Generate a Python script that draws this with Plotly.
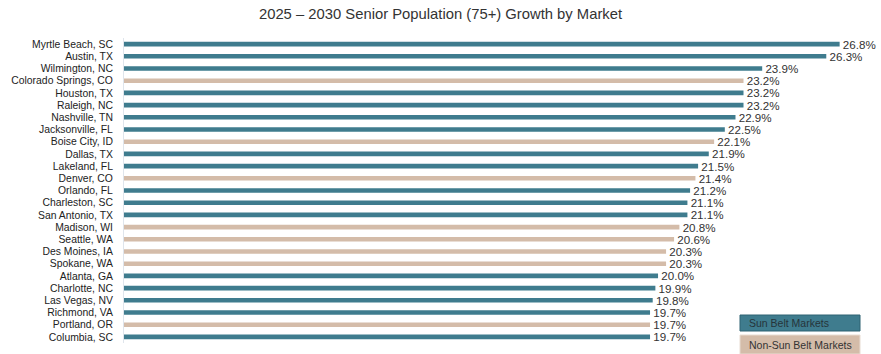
import plotly.graph_objects as go

markets = ["Myrtle Beach, SC", "Austin, TX", "Wilmington, NC", "Colorado Springs, CO",
           "Houston, TX", "Raleigh, NC", "Nashville, TN", "Jacksonville, FL", "Boise City, ID",
           "Dallas, TX", "Lakeland, FL", "Denver, CO", "Orlando, FL", "Charleston, SC",
           "San Antonio, TX", "Madison, WI", "Seattle, WA", "Des Moines, IA", "Spokane, WA",
           "Atlanta, GA", "Charlotte, NC", "Las Vegas, NV", "Richmond, VA", "Portland, OR",
           "Columbia, SC"]
growth = [26.8, 26.3, 23.9, 23.2, 23.2, 23.2, 22.9, 22.5, 22.1, 21.9, 21.5, 21.4, 21.2,
          21.1, 21.1, 20.8, 20.6, 20.3, 20.3, 20.0, 19.9, 19.8, 19.7, 19.7, 19.7]
sun_belt = [True, True, True, False, True, True, True, True, False, True, True, False, True,
            True, True, False, False, False, False, True, True, True, True, False, True]

TEAL = "#3F7C8E"
TAN = "#D4BCA9"
colors = [TEAL if s else TAN for s in sun_belt]
FONT = "Liberation Sans, Arial, sans-serif"

fig = go.Figure()
fig.add_trace(go.Bar(
    y=markets, x=growth, orientation="h",
    marker=dict(color=colors, line=dict(width=0)),
    width=0.38,
    text=[f"\u00a0{v:.1f}%" for v in growth],
    textposition="outside",
    constraintext="none",
    textfont=dict(family=FONT, size=11.6, color="#333333"),
    cliponaxis=False,
    hoverinfo="x+y",
))

fig.update_layout(
    width=881, height=354,
    margin=dict(l=124, r=12, t=38, b=11),
    paper_bgcolor="white", plot_bgcolor="white",
    showlegend=False,
    title=dict(text="2025 – 2030 Senior Population (75+) Growth by Market",
               x=0.5, xanchor="center", y=0.975, yanchor="top",
               font=dict(family=FONT, size=14.8, color="#333333")),
    xaxis=dict(range=[0, 27.9], visible=False, fixedrange=True),
    yaxis=dict(autorange="reversed", showgrid=False, showline=True, linecolor="#dfe5ec",
               linewidth=1, ticks="", tickmode="array", tickvals=markets, ticktext=markets,
               ticklabelstandoff=8,
               tickfont=dict(family=FONT, size=10.4, color="#222222")),
)

# legend boxes (pixel -> paper conversion)
pl, pr = 124, 881 - 12
pt, pb = 38, 354 - 11
def px(x):
    return (x - pl) / (pr - pl)
def py(y):
    return (pb - y) / (pb - pt)

legend_items = [("Sun Belt Markets", TEAL, "#2f6373", "#26343a", 315, 331),
                ("Non-Sun Belt Markets", TAN, "#e8dcd2", "#333333", 335, 354)]
for label, fill, border, tcol, y0, y1 in legend_items:
    fig.add_shape(type="rect", xref="paper", yref="paper",
                  x0=px(740), x1=px(860), y0=py(y1), y1=py(y0),
                  fillcolor=fill, line=dict(color=border, width=1), layer="above")
    fig.add_annotation(xref="paper", yref="paper", x=px(747), y=py((y0 + y1) / 2),
                       xanchor="left", yanchor="middle", text=label, showarrow=False,
                       font=dict(family=FONT, size=10.5, color=tcol))

fig.write_html("out.html")
